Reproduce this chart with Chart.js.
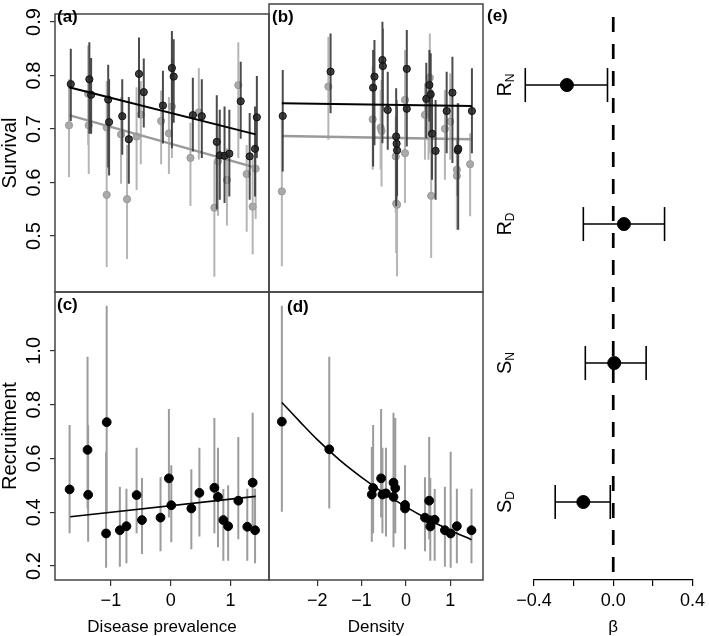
<!DOCTYPE html>
<html>
<head>
<meta charset="utf-8">
<script src="https://cdn.jsdelivr.net/npm/chart.js@4.4.1/dist/chart.umd.min.js"></script>
<style>
  html, body { margin: 0; padding: 0; background: #fff; }
  #wrap { position: relative; width: 709px; height: 636px; }
  #wrap canvas { position: absolute; left: 0; top: 0; }
</style>
</head>
<body>
<div id="wrap">
  <canvas id="pa" width="709" height="636"></canvas>
  <canvas id="pb" width="709" height="636"></canvas>
  <canvas id="pc" width="709" height="636"></canvas>
  <canvas id="pd" width="709" height="636"></canvas>
  <canvas id="pe" width="709" height="636"></canvas>
</div>
<script>
// rows are [x, estimate, lower, upper]
// (a) survival vs disease prevalence
const survPrevDark = [
  [-1.67, 0.784, 0.715, 0.850], [-1.36, 0.793, 0.691, 0.862], [-1.33, 0.764, 0.691, 0.833],
  [-1.045, 0.755, 0.628, 0.820], [-1.03, 0.713, 0.613, 0.793], [-0.81, 0.724, 0.652, 0.793],
  [-0.70, 0.681, 0.598, 0.760], [-0.53, 0.803, 0.721, 0.871], [-0.45, 0.769, 0.703, 0.832],
  [-0.13, 0.744, 0.673, 0.809], [0.02, 0.814, 0.664, 0.883], [0.05, 0.798, 0.712, 0.868],
  [0.37, 0.726, 0.658, 0.796], [0.52, 0.724, 0.646, 0.793], [0.77, 0.676, 0.550, 0.763],
  [0.82, 0.651, 0.568, 0.736], [0.90, 0.650, 0.562, 0.742], [0.98, 0.654, 0.574, 0.736],
  [1.17, 0.752, 0.682, 0.826], [1.32, 0.649, 0.568, 0.730], [1.41, 0.663, 0.574, 0.742],
  [1.44, 0.722, 0.646, 0.799]
];
const survPrevLight = [
  [-1.70, 0.707, 0.610, 0.793], [-1.38, 0.766, 0.670, 0.856], [-1.37, 0.707, 0.616, 0.802],
  [-1.07, 0.577, 0.442, 0.658], [-1.07, 0.703, 0.634, 0.790], [-0.83, 0.690, 0.598, 0.760],
  [-0.73, 0.569, 0.457, 0.670], [-0.57, 0.686, 0.586, 0.778], [-0.50, 0.727, 0.634, 0.790],
  [-0.16, 0.715, 0.634, 0.772], [0.02, 0.742, 0.646, 0.832], [-0.03, 0.692, 0.616, 0.760],
  [0.33, 0.646, 0.556, 0.712], [0.47, 0.731, 0.643, 0.814], [0.73, 0.553, 0.424, 0.640],
  [0.79, 0.640, 0.538, 0.712], [0.94, 0.605, 0.520, 0.664], [1.13, 0.782, 0.646, 0.862],
  [1.27, 0.616, 0.508, 0.670], [1.37, 0.555, 0.466, 0.646], [1.42, 0.626, 0.532, 0.682]
];
const survPrevTrendDark = [[-1.70, 0.778], [1.42, 0.690]];
const survPrevTrendLight = [[-1.70, 0.726], [1.42, 0.628]];

// (b) survival vs density
const survDensDark = [
  [-2.78, 0.713, 0.613, 0.796], [-1.70, 0.793, 0.718, 0.862], [-0.74, 0.764, 0.622, 0.832],
  [-0.71, 0.784, 0.660, 0.850], [-0.53, 0.814, 0.664, 0.883], [-0.52, 0.803, 0.721, 0.871],
  [-0.41, 0.724, 0.652, 0.793], [-0.22, 0.676, 0.550, 0.763], [-0.21, 0.663, 0.574, 0.742],
  [-0.20, 0.651, 0.568, 0.730], [0.02, 0.798, 0.712, 0.868], [0.02, 0.726, 0.658, 0.796],
  [0.46, 0.744, 0.673, 0.809], [0.53, 0.769, 0.703, 0.832], [0.56, 0.752, 0.682, 0.826],
  [0.59, 0.681, 0.598, 0.760], [0.67, 0.650, 0.562, 0.742], [0.92, 0.722, 0.646, 0.793],
  [1.05, 0.755, 0.628, 0.820], [1.17, 0.651, 0.568, 0.736], [1.18, 0.654, 0.508, 0.736],
  [1.49, 0.722, 0.646, 0.799]
];
const survDensLight = [
  [-2.80, 0.577, 0.442, 0.706], [-1.75, 0.766, 0.670, 0.856], [-0.75, 0.707, 0.616, 0.802],
  [-0.57, 0.692, 0.616, 0.760], [-0.55, 0.686, 0.586, 0.778], [-0.23, 0.640, 0.538, 0.712],
  [-0.22, 0.555, 0.466, 0.646], [-0.20, 0.553, 0.424, 0.640], [-0.02, 0.742, 0.646, 0.832],
  [-0.02, 0.646, 0.556, 0.712], [0.43, 0.715, 0.634, 0.772], [0.51, 0.727, 0.634, 0.790],
  [0.54, 0.782, 0.646, 0.862], [0.57, 0.569, 0.457, 0.670], [0.88, 0.690, 0.598, 0.760],
  [1.00, 0.703, 0.634, 0.790], [1.15, 0.616, 0.508, 0.670], [1.15, 0.605, 0.520, 0.664],
  [1.45, 0.626, 0.532, 0.682]
];
const survDensTrendDark = [[-2.80, 0.736], [1.49, 0.731]];
const survDensTrendLight = [[-2.80, 0.677], [1.49, 0.671]];

// (c) recruitment vs disease prevalence
const recPrev = [
  [-1.69, 0.485, 0.322, 0.724], [-1.39, 0.632, 0.414, 0.978], [-1.38, 0.465, 0.290, 0.724],
  [-1.07, 0.735, 0.402, 1.168], [-1.08, 0.321, 0.194, 0.625], [-0.85, 0.333, 0.197, 0.495],
  [-0.74, 0.348, 0.210, 0.487], [-0.57, 0.464, 0.322, 0.640], [-0.48, 0.371, 0.245, 0.527],
  [-0.17, 0.380, 0.255, 0.530], [-0.03, 0.526, 0.380, 0.784], [0.01, 0.426, 0.288, 0.575],
  [0.345, 0.414, 0.262, 0.560], [0.48, 0.472, 0.310, 0.640], [0.73, 0.491, 0.322, 0.750],
  [0.79, 0.457, 0.270, 0.640], [0.88, 0.371, 0.220, 0.486], [0.96, 0.348, 0.220, 0.500],
  [1.13, 0.443, 0.300, 0.680], [1.28, 0.346, 0.220, 0.487], [1.37, 0.510, 0.350, 0.770],
  [1.41, 0.333, 0.210, 0.487]
];
const recPrevTrend = [[-1.68, 0.383], [1.42, 0.459]];

// (d) recruitment vs density
const recDens = [
  [-2.80, 0.737, 0.402, 1.168], [-1.73, 0.634, 0.414, 0.978], [-0.77, 0.466, 0.290, 0.643],
  [-0.74, 0.490, 0.322, 0.724], [-0.56, 0.526, 0.380, 0.784], [-0.53, 0.466, 0.322, 0.640],
  [-0.45, 0.470, 0.310, 0.640], [-0.28, 0.510, 0.350, 0.770], [-0.24, 0.490, 0.322, 0.750],
  [-0.28, 0.457, 0.270, 0.640], [-0.02, 0.427, 0.288, 0.575], [-0.02, 0.414, 0.262, 0.560],
  [0.43, 0.380, 0.255, 0.530], [0.525, 0.443, 0.300, 0.680], [0.55, 0.370, 0.245, 0.527],
  [0.55, 0.347, 0.220, 0.500], [0.65, 0.372, 0.220, 0.486], [0.88, 0.333, 0.197, 0.495],
  [1.01, 0.321, 0.194, 0.625], [1.15, 0.348, 0.210, 0.487], [1.48, 0.333, 0.210, 0.487]
];
const recDensTrend = [[-2.80, 0.808], [-2.4, 0.738], [-2.0, 0.670], [-1.5, 0.595], [-1.0, 0.530],
  [-0.5, 0.472], [0, 0.420], [0.5, 0.374], [1.0, 0.333], [1.48, 0.298]];

// (e) coefficients, bottom to top
const effNames = [['S', 'D'], ['S', 'N'], ['R', 'D'], ['R', 'N']];
const effEst = [-0.151, 0.005, 0.054, -0.234];
const effLo = [-0.293, -0.141, -0.151, -0.444];
const effHi = [-0.015, 0.166, 0.259, -0.029];

// axis limits and ticks
const prevRange = [-1.934, 1.643];
const densRange = [-3.09, 1.74];
const survRange = [0.3955, 0.915];
const recRange = [0.148, 1.219];
const betaRange = [-0.4, 0.4];
const effRange = [0.439, 4.576];
const survTicks = [0.5, 0.6, 0.7, 0.8, 0.9];
const recTicks = [0.2, 0.4, 0.6, 0.8, 1.0];
const prevTicks = [-1, 0, 1];
const densTicks = [-2, -1, 0, 1];
const betaTicks = [-0.4, -0.2, 0, 0.2, 0.4];
const betaLabelled = [-0.4, 0, 0.4];

const FONT = '"Liberation Sans", Arial, Helvetica, sans-serif';
Chart.defaults.font.family = FONT;
Chart.defaults.color = '#000';

function barsOf(rows) {
  const out = [];
  rows.forEach(r => out.push({x: r[0], y: r[2]}, {x: r[0], y: r[3]}, {x: r[0], y: null}));
  return out;
}
const pointsOf = rows => rows.map(r => ({x: r[0], y: r[1]}));
const fixTicks = vals => s => { s.ticks = vals.map(v => ({value: v})); };
const minus = s => String(s).replace('-', '\u2212');

function yAxis(range, ticks, title) {
  if (!title) return {type: 'linear', display: false, min: range[0], max: range[1]};
  return {
    type: 'linear', min: range[0], max: range[1],
    afterBuildTicks: fixTicks(ticks),
    afterFit: s => { s.width = 55; },
    border: {display: false},
    grid: {drawOnChartArea: false, tickLength: 5, color: '#333', lineWidth: 1.2},
    ticks: {autoSkip: false, minRotation: 90, maxRotation: 90, crossAlign: 'center', padding: 2,
      font: {size: 20}, color: '#000', callback: v => v.toFixed(1)},
    title: {display: true, text: title, font: {size: 20, lineHeight: 1}, padding: 0, color: '#000'}
  };
}

function xAxis(range, ticks, title, fmt) {
  if (!title) return {type: 'linear', display: false, min: range[0], max: range[1]};
  return {
    type: 'linear', min: range[0], max: range[1],
    afterBuildTicks: fixTicks(ticks),
    afterFit: s => { s.height = 56; },
    border: {display: false},
    grid: {drawOnChartArea: false, tickLength: 6, color: '#333', lineWidth: 1.2},
    ticks: {autoSkip: false, maxRotation: 0, padding: 4, font: {size: 18}, color: '#000', callback: fmt},
    title: {display: true, text: title, font: {size: 17, lineHeight: 1}, padding: 0, color: '#000'}
  };
}

// box round the panel and its letter
const panelDeco = {
  id: 'panelDeco',
  afterDraw(chart, args, o) {
    const ctx = chart.ctx, a = chart.chartArea;
    ctx.save();
    if (o.box) {
      ctx.strokeStyle = '#444';
      ctx.lineWidth = 1.5;
      ctx.strokeRect(a.left, a.top, a.right - a.left, a.bottom - a.top);
    }
    ctx.fillStyle = '#000';
    ctx.font = 'bold 17px ' + FONT;
    ctx.fillText(o.label, o.lx, o.ly);
    ctx.restore();
  }
};

// R_N style labels for panel e, placed with the y scale
const effTicks = {
  id: 'effTicks',
  afterDraw(chart) {
    const ctx = chart.ctx, ys = chart.scales.y;
    effNames.forEach((n, i) => {
      const py = ys.getPixelForValue(i + 1);
      ctx.save();
      ctx.translate(511, py);
      ctx.rotate(-Math.PI / 2);
      ctx.fillStyle = '#000';
      ctx.font = '20px ' + FONT;
      const w1 = ctx.measureText(n[0]).width;
      ctx.font = '12px ' + FONT;
      const w2 = ctx.measureText(n[1]).width;
      const start = -(w1 + w2) / 2;
      ctx.font = '20px ' + FONT;
      ctx.fillText(n[0], start, 0);
      ctx.font = '12px ' + FONT;
      ctx.fillText(n[1], start + w1, 3);
      ctx.restore();
    });
  }
};

function baseOptions(padding, scales, deco) {
  return {
    responsive: false,
    animation: false,
    events: [],
    layout: {padding: padding, autoPadding: false},
    plugins: {legend: {display: false}, tooltip: {enabled: false}, panelDeco: deco},
    scales: scales
  };
}

function survivalSets(dark, light, trendDark, trendLight) {
  return [
    {data: pointsOf(trendDark), borderColor: '#000', borderWidth: 2, pointRadius: 0, order: 0},
    {data: pointsOf(dark), showLine: false, pointRadius: 3.6, pointBackgroundColor: 'rgba(35,35,35,0.85)',
      pointBorderColor: '#111', pointBorderWidth: 1, order: 1},
    {data: barsOf(dark), borderColor: 'rgba(55,55,55,0.9)', borderWidth: 2, pointRadius: 0, order: 2},
    {data: pointsOf(trendLight), borderColor: '#9a9a9a', borderWidth: 2.5, pointRadius: 0, order: 3},
    {data: pointsOf(light), showLine: false, pointRadius: 3.6, pointBackgroundColor: '#a9a9a9',
      pointBorderColor: '#9a9a9a', pointBorderWidth: 1, order: 4},
    {data: barsOf(light), borderColor: '#b5b5b5', borderWidth: 2, pointRadius: 0, order: 5}
  ];
}

function recruitSets(rows, trend) {
  return [
    {data: pointsOf(trend), borderColor: '#000', borderWidth: 1.6, pointRadius: 0,
      cubicInterpolationMode: 'monotone', order: 0},
    {data: pointsOf(rows), showLine: false, pointRadius: 4.4, pointBackgroundColor: '#000',
      pointBorderColor: '#000', order: 1},
    {data: barsOf(rows), borderColor: '#9c9c9c', borderWidth: 2, pointRadius: 0, order: 2}
  ];
}

new Chart(document.getElementById('pa'), {
  type: 'line',
  data: {datasets: survivalSets(survPrevDark, survPrevLight, survPrevTrendDark, survPrevTrendLight)},
  options: baseOptions({left: 0, top: 4, right: 440, bottom: 344},
    {x: xAxis(prevRange), y: yAxis(survRange, survTicks, 'Survival')},
    {box: true, label: '(a)', lx: 57, ly: 22}),
  plugins: [panelDeco]
});

new Chart(document.getElementById('pb'), {
  type: 'line',
  data: {datasets: survivalSets(survDensDark, survDensLight, survDensTrendDark, survDensTrendLight)},
  options: baseOptions({left: 269, top: 4, right: 226, bottom: 344},
    {x: xAxis(densRange), y: yAxis(survRange)},
    {box: true, label: '(b)', lx: 272, ly: 22}),
  plugins: [panelDeco]
});

new Chart(document.getElementById('pc'), {
  type: 'line',
  data: {datasets: recruitSets(recPrev, recPrevTrend)},
  options: baseOptions({left: 0, top: 292, right: 440, bottom: 0},
    {x: xAxis(prevRange, prevTicks, 'Disease prevalence', v => minus(v)),
     y: yAxis(recRange, recTicks, 'Recruitment')},
    {box: true, label: '(c)', lx: 57, ly: 310}),
  plugins: [panelDeco]
});

new Chart(document.getElementById('pd'), {
  type: 'line',
  data: {datasets: recruitSets(recDens, recDensTrend)},
  options: baseOptions({left: 269, top: 292, right: 226, bottom: 0},
    {x: xAxis(densRange, densTicks, 'Density', v => minus(v)), y: yAxis(recRange)},
    {box: true, label: '(d)', lx: 287, ly: 312}),
  plugins: [panelDeco]
});

const eBars = [], eCaps = [];
effEst.forEach((v, i) => {
  eBars.push({x: effLo[i], y: i + 1}, {x: effHi[i], y: i + 1}, {x: effHi[i], y: null});
  eCaps.push({x: effLo[i], y: i + 1}, {x: effHi[i], y: i + 1});
});

const betaX = xAxis(betaRange, betaTicks, '\u03B2',
  v => betaLabelled.includes(v) ? minus(v.toFixed(1)) : '');
betaX.border = {display: true, color: '#000', width: 1.2};
betaX.grid.color = '#000';

new Chart(document.getElementById('pe'), {
  type: 'line',
  data: {datasets: [
    {data: effEst.map((v, i) => ({x: v, y: i + 1})), showLine: false, pointRadius: 6.5,
      pointBackgroundColor: '#000', pointBorderColor: '#000', clip: false, order: 0},
    {data: eCaps, showLine: false, pointStyle: 'line', pointRotation: 90, pointRadius: 17,
      pointBorderColor: '#000', pointBorderWidth: 1.6, clip: false, order: 1},
    {data: eBars, borderColor: '#000', borderWidth: 1.6, pointRadius: 0, clip: false, order: 2},
    {data: [{x: 0, y: effRange[1]}, {x: 0, y: effRange[0]}], borderColor: '#000', borderWidth: 2.7,
      borderDash: [15, 12], borderDashOffset: 15, pointRadius: 0, clip: false, order: 3}
  ]},
  options: baseOptions({left: 534, top: 5, right: 11, bottom: 0},
    {x: betaX, y: {type: 'linear', display: false, min: effRange[0], max: effRange[1]}},
    {box: false, label: '(e)', lx: 487, ly: 21}),
  plugins: [panelDeco, effTicks]
});
</script>
</body>
</html>
